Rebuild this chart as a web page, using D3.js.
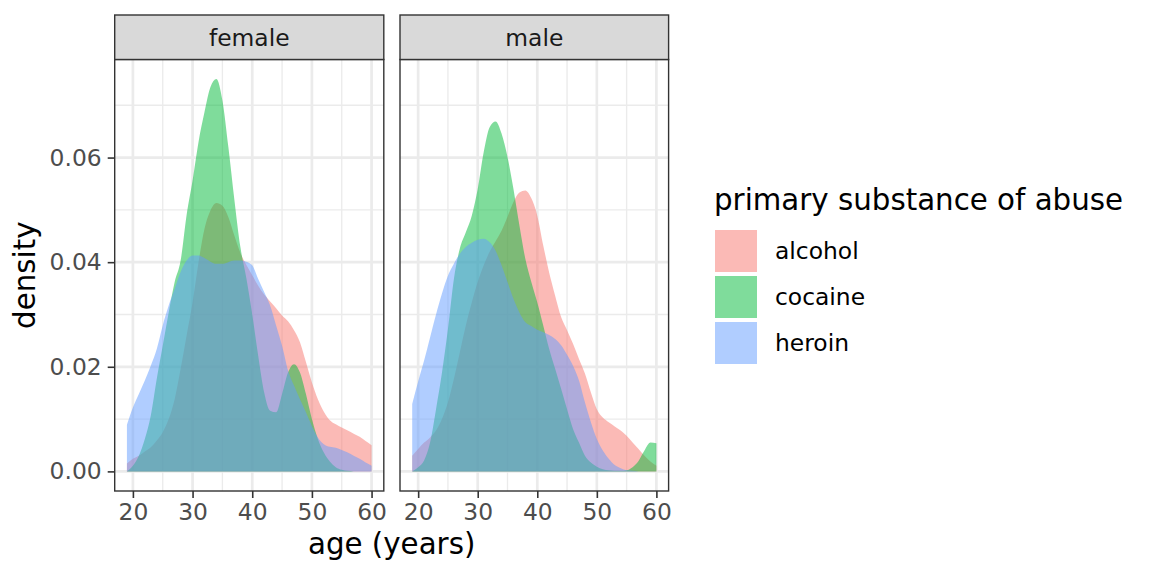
<!DOCTYPE html>
<html>
<head>
<meta charset="utf-8">
<script src="https://cdn.jsdelivr.net/npm/d3@7"></script>
<style>
  html, body { margin: 0; padding: 0; background: #fff; }
  svg { display: block; }
  text { font-family: "DejaVu Sans", sans-serif; }
</style>
</head>
<body>
<svg id="chart" width="1152" height="576"></svg>
<script>
// ---------------- data ----------------
const ages = [19,20,21,22,23,24,25,26,27,28,29,30,31,32,33,34,35,36,37,38,39,40,
              41,42,43,44,45,46,47,48,49,50,51,52,53,54,55,56,57,58,59,60];

const femaleAlcohol = [0.0015,0.0024,0.0030,0.0038,0.0046,0.0059,0.0075,0.0100,0.0138,0.0196,
  0.0260,0.0323,0.0400,0.0464,0.0499,0.0513,0.0508,0.0486,0.0451,0.0418,0.0395,0.0375,
  0.0355,0.0338,0.0325,0.0312,0.0298,0.0287,0.0270,0.0247,0.0209,0.0170,0.0138,0.0114,
  0.0098,0.0090,0.0084,0.0078,0.0072,0.0066,0.0058,0.0050];
const femaleCocaine = [0.0000,0.0011,0.0030,0.0062,0.0107,0.0177,0.0240,0.0304,0.0362,0.0403,
  0.0490,0.0556,0.0630,0.0687,0.0735,0.0750,0.0709,0.0620,0.0520,0.0430,0.0370,0.0300,
  0.0221,0.0151,0.0116,0.0113,0.0148,0.0189,0.0205,0.0189,0.0148,0.0100,0.0062,0.0036,
  0.0019,0.0008,0.0003,0.0001,0.0000,0.0000,0.0000,0.0000];
const femaleHeroin = [0.0089,0.0122,0.0148,0.0174,0.0202,0.0234,0.0279,0.0317,0.0349,0.0381,
  0.0403,0.0413,0.0413,0.0408,0.0401,0.0397,0.0397,0.0400,0.0403,0.0403,0.0401,0.0394,
  0.0368,0.0343,0.0317,0.0279,0.0240,0.0193,0.0164,0.0138,0.0113,0.0087,0.0065,0.0052,
  0.0047,0.0045,0.0041,0.0036,0.0030,0.0024,0.0017,0.0011];

const maleAlcohol = [0.0030,0.0043,0.0055,0.0065,0.0078,0.0100,0.0132,0.0177,0.0228,0.0279,
  0.0323,0.0362,0.0394,0.0420,0.0440,0.0460,0.0487,0.0515,0.0533,0.0537,0.0522,0.0489,
  0.0432,0.0380,0.0336,0.0295,0.0270,0.0244,0.0215,0.0187,0.0151,0.0119,0.0103,0.0094,
  0.0086,0.0078,0.0068,0.0055,0.0043,0.0030,0.0019,0.0011];
const maleCocaine = [0.0000,0.0008,0.0021,0.0055,0.0119,0.0189,0.0272,0.0368,0.0426,0.0457,
  0.0489,0.0540,0.0610,0.0658,0.0669,0.0646,0.0601,0.0540,0.0470,0.0406,0.0362,0.0323,
  0.0279,0.0234,0.0196,0.0158,0.0119,0.0081,0.0055,0.0030,0.0017,0.0009,0.0004,0.0002,
  0.0001,0.0001,0.0002,0.0008,0.0020,0.0040,0.0055,0.0054];
const maleHeroin = [0.0129,0.0172,0.0212,0.0256,0.0300,0.0340,0.0374,0.0397,0.0416,0.0429,
  0.0437,0.0443,0.0445,0.0438,0.0422,0.0394,0.0362,0.0330,0.0304,0.0285,0.0278,0.0271,
  0.0266,0.0261,0.0253,0.0241,0.0223,0.0202,0.0174,0.0132,0.0094,0.0062,0.0040,0.0024,
  0.0012,0.0006,0.0002,0.0001,0.0000,0.0000,0.0000,0.0000];

const panels = ["female", "male"];
const substances = ["alcohol", "cocaine", "heroin"];
const colors = ["#F8766D", "#00BA38", "#619CFF"];
const xTicks = [20, 30, 40, 50, 60];
const xMinor = [25, 35, 45, 55];
const yTicks = [0, 0.02, 0.04, 0.06];
const yMinor = [0.01, 0.03, 0.05, 0.07];
const yTickLabels = ["0.00", "0.02", "0.04", "0.06"];
const seriesByPanel = {
  female: [femaleAlcohol, femaleCocaine, femaleHeroin],
  male:   [maleAlcohol, maleCocaine, maleHeroin]
};

// ---------------- layout ----------------
const svg = d3.select("#chart");
const panelTop = 59.5, panelBottom = 491, stripTop = 15;
const panelX = { female: [114.7, 383.8], male: [400, 668.6] };
const gridCol = "#EBEBEB", borderCol = "#333333";
const smallFont = 23.4, bigFont = 29.3;

const allVals = [].concat(...panels.map(p => [].concat(...seriesByPanel[p])));
const yMax = d3.max(allVals);
const xLo = d3.min(ages), xHi = d3.max(ages), xPad = (xHi - xLo) * 0.05;

const y = d3.scaleLinear().domain([-0.05 * yMax, 1.05 * yMax]).range([panelBottom, panelTop]);

panels.forEach(p => {
  const [l, r] = panelX[p];
  const x = d3.scaleLinear().domain([xLo - xPad, xHi + xPad]).range([l, r]);
  const g = svg.append("g");

  g.append("rect").attr("x", l).attr("y", panelTop).attr("width", r - l)
    .attr("height", panelBottom - panelTop).attr("fill", "#fff");

  // minor grid
  g.selectAll(".xmin").data(xMinor).enter().append("line")
    .attr("x1", d => x(d)).attr("x2", d => x(d)).attr("y1", panelTop).attr("y2", panelBottom)
    .attr("stroke", gridCol).attr("stroke-width", 1.35);
  g.selectAll(".ymin").data(yMinor).enter().append("line")
    .attr("x1", l).attr("x2", r).attr("y1", d => y(d)).attr("y2", d => y(d))
    .attr("stroke", gridCol).attr("stroke-width", 1.35);
  // major grid
  g.selectAll(".xmaj").data(xTicks).enter().append("line")
    .attr("x1", d => x(d)).attr("x2", d => x(d)).attr("y1", panelTop).attr("y2", panelBottom)
    .attr("stroke", gridCol).attr("stroke-width", 2.7);
  g.selectAll(".ymaj").data(yTicks).enter().append("line")
    .attr("x1", l).attr("x2", r).attr("y1", d => y(d)).attr("y2", d => y(d))
    .attr("stroke", gridCol).attr("stroke-width", 2.7);

  // density areas
  const area = d3.area()
    .x(d => x(d.age)).y0(y(0)).y1(d => y(d.v))
    .curve(d3.curveMonotoneX);
  seriesByPanel[p].forEach((vals, i) => {
    const pts = ages.map((a, k) => ({ age: a, v: vals[k] }));
    g.append("path").datum(pts).attr("d", area)
      .attr("fill", colors[i]).attr("fill-opacity", 0.5).attr("stroke", "none");
  });

  // border
  g.append("rect").attr("x", l).attr("y", panelTop).attr("width", r - l)
    .attr("height", panelBottom - panelTop).attr("fill", "none")
    .attr("stroke", borderCol).attr("stroke-width", 1.4);

  // strip
  g.append("rect").attr("x", l).attr("y", stripTop).attr("width", r - l)
    .attr("height", panelTop - stripTop).attr("fill", "#D9D9D9")
    .attr("stroke", borderCol).attr("stroke-width", 1.4);
  g.append("text").attr("x", (l + r) / 2).attr("y", 45.5).attr("text-anchor", "middle")
    .attr("font-size", smallFont).attr("fill", "#1A1A1A").text(p);

  // x axis
  const xAxis = d3.axisBottom(x).tickValues(xTicks).tickSize(7).tickPadding(5).tickFormat(d3.format("d"));
  const ax = g.append("g").attr("transform", `translate(0,${panelBottom})`).call(xAxis);
  ax.select(".domain").remove();
  ax.selectAll(".tick line").attr("stroke", borderCol).attr("stroke-width", 1.6);
  ax.selectAll(".tick text").attr("font-size", smallFont).attr("fill", "#4D4D4D")
    .attr("font-family", "DejaVu Sans").attr("dy", "0.71em");
});

// y axis (left panel only)
{
  const yAxis = d3.axisLeft(y).tickValues(yTicks).tickSize(7).tickPadding(6)
    .tickFormat((d, i) => yTickLabels[i]);
  const ay = svg.append("g").attr("transform", `translate(${panelX.female[0]},0)`).call(yAxis);
  ay.select(".domain").remove();
  ay.selectAll(".tick line").attr("stroke", borderCol).attr("stroke-width", 1.6);
  ay.selectAll(".tick text").attr("font-size", smallFont).attr("fill", "#4D4D4D")
    .attr("font-family", "DejaVu Sans");
}

// axis titles
svg.append("text").attr("x", (panelX.female[0] + panelX.male[1]) / 2).attr("y", 554)
  .attr("text-anchor", "middle").attr("font-size", bigFont).attr("fill", "#000").text("age (years)");
svg.append("text").attr("transform", `translate(35,${(panelTop + panelBottom) / 2}) rotate(-90)`)
  .attr("text-anchor", "middle").attr("font-size", bigFont).attr("fill", "#000").text("density");

// legend
const leg = svg.append("g");
leg.append("text").attr("x", 714).attr("y", 210).attr("font-size", bigFont).attr("fill", "#000")
  .text("primary substance of abuse");
substances.forEach((s, i) => {
  const top = 230 + i * 46;
  leg.append("rect").attr("x", 715).attr("y", top).attr("width", 42).attr("height", 42)
    .attr("fill", colors[i]).attr("fill-opacity", 0.5);
  leg.append("text").attr("x", 775).attr("y", top + 29).attr("font-size", smallFont).attr("fill", "#000")
    .text(s);
});
</script>
</body>
</html>
